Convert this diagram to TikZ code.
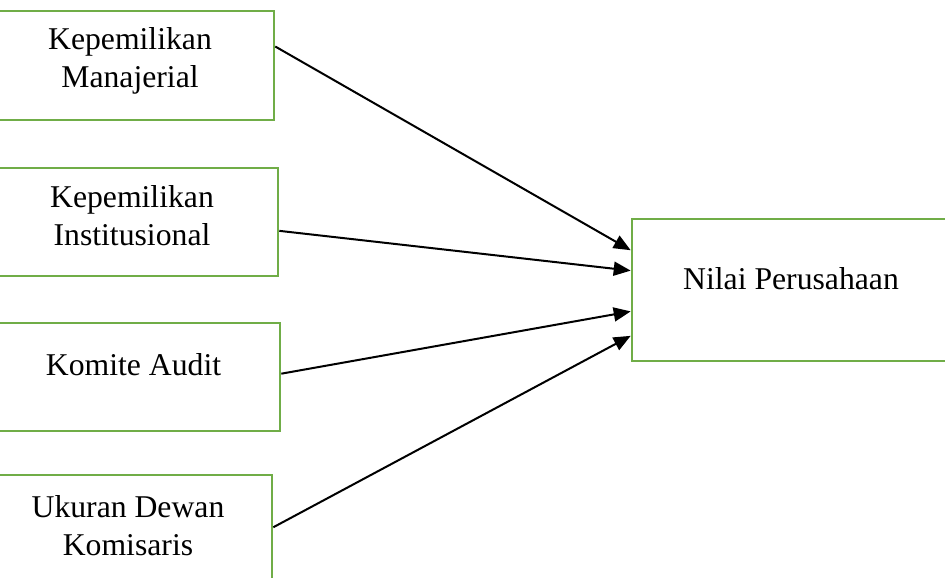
\documentclass[tikz,border=0pt]{standalone}
\usepackage{fontspec}
\setmainfont{Liberation Serif}
\usetikzlibrary{arrows.meta,calc}
\definecolor{boxgreen}{HTML}{70AD47}
\begin{document}
\begin{tikzpicture}[x=1pt,y=-1pt,
  vbox/.style={draw=boxgreen,line width=2.6pt,rectangle,inner sep=0pt,fill=white},
  lbl/.style={font=\fontsize{31.7}{38}\selectfont,align=center,inner sep=0pt},
  conn/.style={line width=2pt,-{Triangle[length=17pt,width=14pt]}}]
\useasboundingbox (0,0) rectangle (945,578);
\node[vbox,minimum width=288pt,minimum height=109pt] (b1) at (130,65.5) {};
\node[vbox,minimum width=292pt,minimum height=108pt] (b2) at (132,222) {};
\node[vbox,minimum width=293pt,minimum height=108pt] (b3) at (133.5,377) {};
\node[vbox,minimum width=288pt,minimum height=109pt] (b4) at (128,529.5) {};
\node[vbox,minimum width=318pt,minimum height=142pt] (r) at (791,290) {};
\node[lbl] (t1) at (130,61) {Kepemilikan\\Manajerial};
\node[lbl] (t2) at (132,216) {Kepemilikan\\Institusional};
\node[lbl] (t3) at (133.5,365) {Komite Audit};
\node[lbl] (t4) at (128,526) {Ukuran Dewan\\Komisaris};
\node[lbl] (tr) at (791,279) {Nilai Perusahaan};
\coordinate (s1) at ($(b1.north east)!0.33!(b1.south east)$);
\coordinate (s2) at ($(b2.north east)!0.58!(b2.south east)$);
\coordinate (s3) at ($(b3.north east)!0.47!(b3.south east)$);
\coordinate (s4) at ($(b4.north east)!0.48!(b4.south east)$);
\coordinate (e1) at ($(r.north west)!0.225!(r.south west)$);
\coordinate (e2) at ($(r.north west)!0.366!(r.south west)$);
\coordinate (e3) at ($(r.north west)!0.648!(r.south west)$);
\coordinate (e4) at ($(r.north west)!0.817!(r.south west)$);
\draw[conn] (s1) -- (e1);
\draw[conn] (s2) -- (e2);
\draw[conn] (s3) -- (e3);
\draw[conn] (s4) -- (e4);
\end{tikzpicture}
\end{document}
